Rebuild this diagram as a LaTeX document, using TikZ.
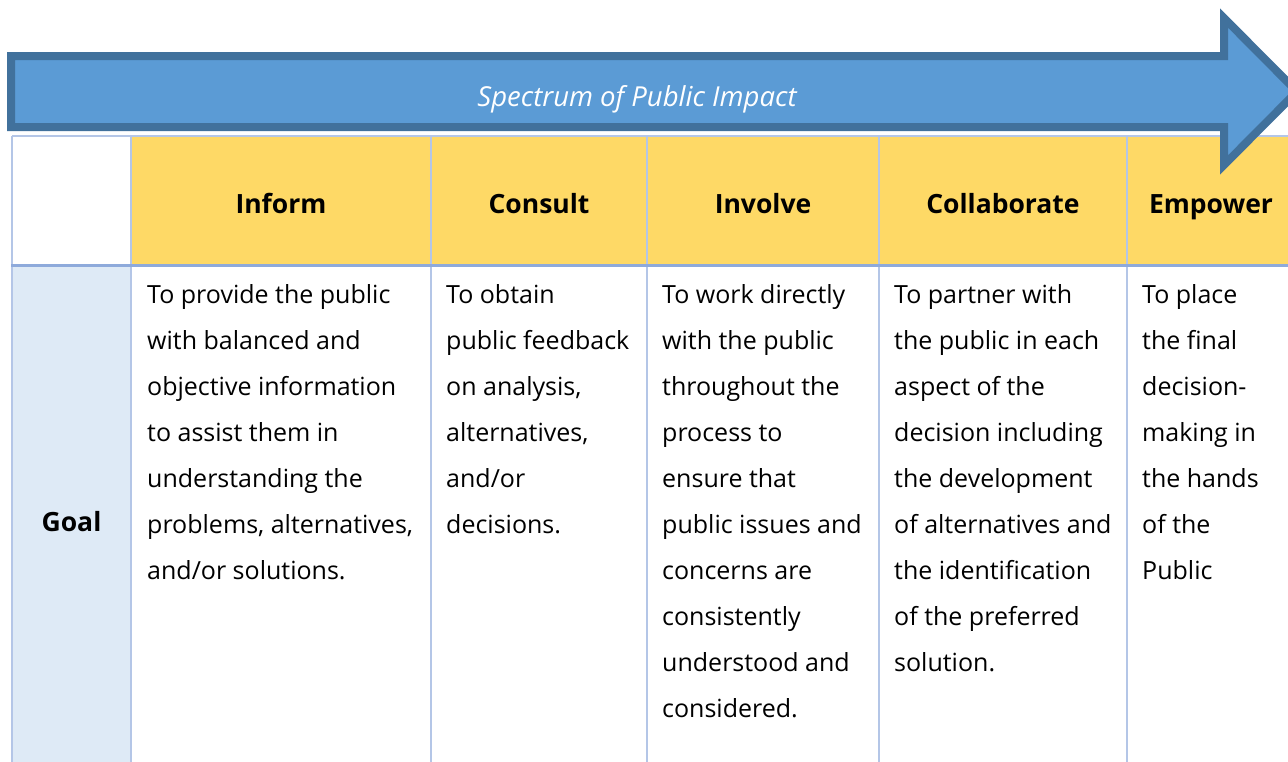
\documentclass[tikz,border=0pt]{standalone}
\usepackage{fontspec}
\setmainfont{Open Sans}
\definecolor{arrowfill}{HTML}{5B9BD5}
\definecolor{arrowdraw}{HTML}{41719C}
\definecolor{headfill}{HTML}{FED966}
\definecolor{goalfill}{HTML}{DEEAF6}
\definecolor{gridcol}{HTML}{B4C6E7}
\definecolor{hlinecol}{HTML}{8EAADB}
\tikzset{
  gridline/.style={draw=gridcol, line width=2pt},
  headline/.style={draw=hlinecol, line width=3pt},
  headtext/.style={font=\fontsize{26.5}{30}\selectfont\bfseries, text=black, inner sep=0pt, anchor=base},
  bodytext/.style={font=\fontsize{25}{46}\selectfont, text=black, inner sep=0pt, align=left, anchor=base west},
  titletext/.style={font=\fontsize{27.5}{30}\selectfont\itshape, text=white, inner sep=0pt, anchor=base},
  bigarrow/.style={draw=arrowdraw, fill=arrowfill, line width=8pt, miter limit=10},
}
\begin{document}
\begin{tikzpicture}[x=1pt,y=-1pt]
\useasboundingbox (0,0) rectangle (1288,761);
\clip (0,0) rectangle (1288,761);
% table fills
\fill[headfill] (131,136) rectangle (1300,265);
\fill[goalfill] (12,266) rectangle (131,770);
% grid
\draw[gridline] (12,136) -- (1300,136);
\foreach \x in {12,131,431,647,879,1127} {
  \draw[gridline] (\x,136) -- (\x,770);
}
\draw[headline] (11,265.5) -- (1300,265.5);
% header texts
\node[headtext] (hinform) at (281,213) {Inform};
\node[headtext] (hconsult) at (539,213) {Consult};
\node[headtext] (hinvolve) at (763,213) {Involve};
\node[headtext] (hcollab) at (1003,213) {Collaborate};
\node[headtext] (hempower) at (1211,213) {Empower};
\node[headtext] (goal) at (71.5,531) {Goal};
% body texts (anchor at baseline of last line; first baseline at y=303, step 46)
\node[bodytext] (binform) at (147,579) {To provide the public\\with balanced and\\objective information\\to assist them in\\understanding the\\problems, alternatives,\\and/or solutions.};
\node[bodytext] (bconsult) at (446,533) {To obtain\\public feedback\\on analysis,\\alternatives,\\and/or\\decisions.};
\node[bodytext] (binvolve) at (662,717) {To work directly\\with the public\\throughout the\\process to\\ensure that\\public issues and\\concerns are\\consistently\\understood and\\considered.};
\node[bodytext] (bcollab) at (894,671) {To partner with\\the public in each\\aspect of the\\decision including\\the development\\of alternatives and\\the identification\\of the preferred\\solution.};
\node[bodytext] (bempower) at (1142,579) {To place\\the final\\decision-\\making in\\the hands\\of the\\Public};
% arrow
\draw[bigarrow] (11,56) -- (1224,56) -- (1224,18) -- (1297,91.5) -- (1224,165) -- (1224,127) -- (11,127) -- cycle;
\node[titletext] (title) at (637,106) {Spectrum of Public Impact};
\end{tikzpicture}
\end{document}
